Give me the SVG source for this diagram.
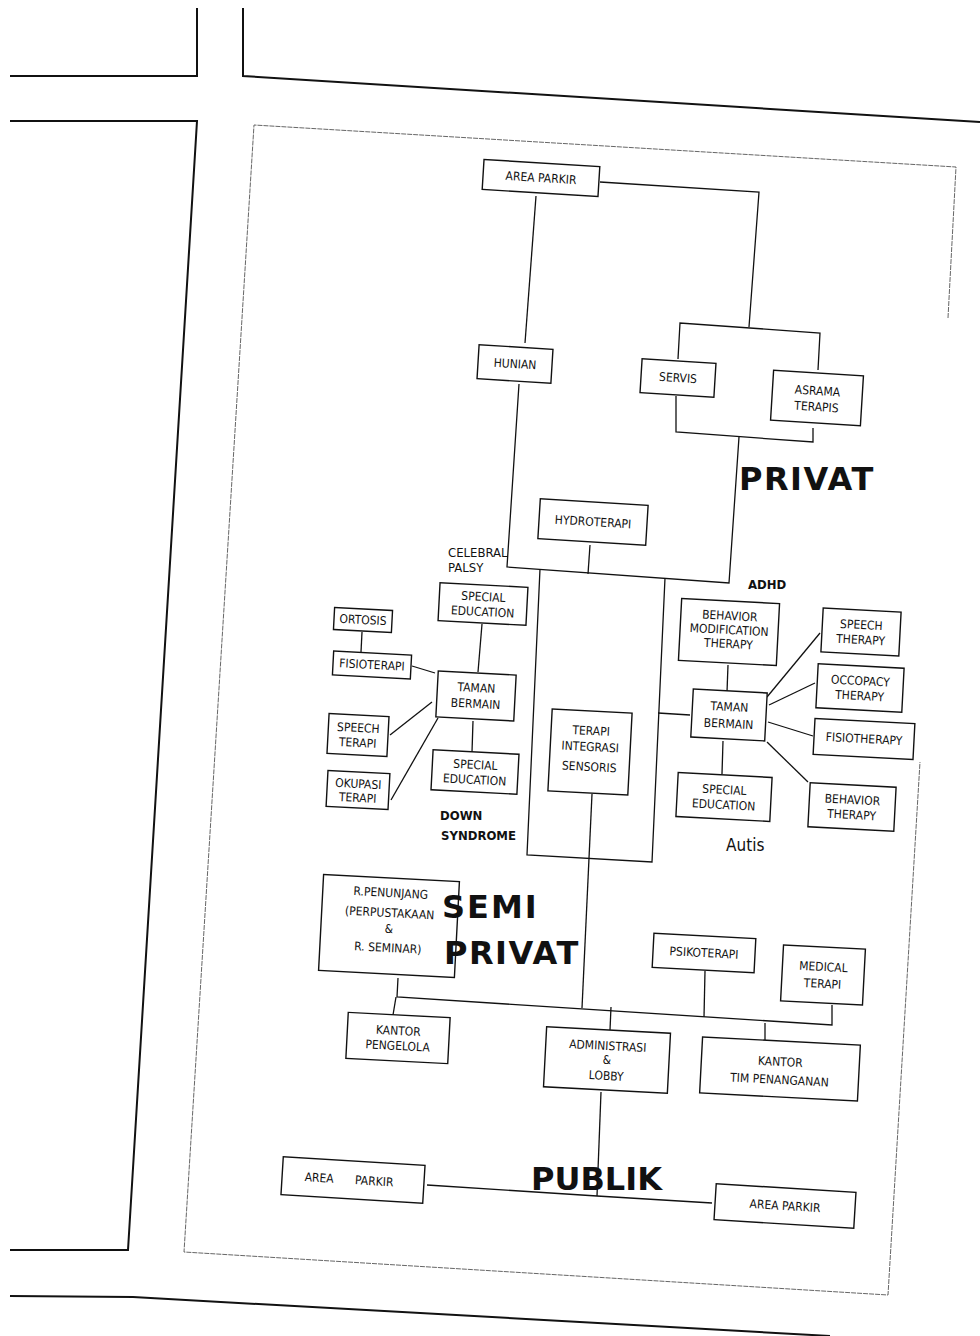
<svg xmlns="http://www.w3.org/2000/svg" width="980" height="1336" viewBox="0 0 980 1336">
<style>
.bg{fill:#fff}
.road{fill:none;stroke:#111;stroke-width:2}
.page{fill:none;stroke:#555;stroke-width:0.9;stroke-dasharray:5 1}
.box{fill:#fff;stroke:#111;stroke-width:1.4}
.c{fill:none;stroke:#111;stroke-width:1.3}
.t{font-family:"DejaVu Sans Condensed","Liberation Sans",sans-serif;font-size:12px;fill:#111;text-anchor:middle}
.lab{font-family:"DejaVu Sans Condensed","Liberation Sans",sans-serif;font-size:13px;fill:#111}
.big{font-family:"DejaVu Sans","Liberation Sans",sans-serif;font-weight:bold;font-size:32px;fill:#111}
</style>
<rect class="bg" x="0" y="0" width="980" height="1336"/>
<g id="site">
<polyline class="road" points="197,8 197,76 10,76"/>
<polyline class="road" points="243,8 243,76 980,122"/>
<polyline class="road" points="10,121 197,121 128,1250 10,1250"/>
<polyline class="road" points="10,1296 133,1297 830,1336"/>
<polyline class="page" points="948,318 956,167 254,125 184,1252 888,1295 920,762"/>
</g>
<g id="connectors">
<polyline class="c" points="536,196 525,343"/>
<polyline class="c" points="600,182 759,192 749,327"/>
<polyline class="c" points="678,359 680,323 820,333 818,370"/>
<polyline class="c" points="676,396 676,432 813,442 813,428"/>
<polyline class="c" points="739,437 729,583 507,567 519,384"/>
<polyline class="c" points="590,545 588,574"/>
<polyline class="c" points="540,569 527,855 652,862 665,578"/>
<polyline class="c" points="658,713 690,715"/>
<polyline class="c" points="592,794 582,1008"/>
<polyline class="c" points="482,624 478,672"/>
<polyline class="c" points="473,721 472,752"/>
<polyline class="c" points="362,632 361,652"/>
<polyline class="c" points="412,666 435,673"/>
<polyline class="c" points="390,735 432,702"/>
<polyline class="c" points="391,800 438,718"/>
<polyline class="c" points="728,665 727,692"/>
<polyline class="c" points="723,741 722,774"/>
<polyline class="c" points="767,697 820,633"/>
<polyline class="c" points="769,705 815,683"/>
<polyline class="c" points="768,722 813,736"/>
<polyline class="c" points="767,742 808,782"/>
<polyline class="c" points="398,978 397,997 832,1025 832,1005"/>
<polyline class="c" points="393,1015 396,997"/>
<polyline class="c" points="610,1030 611,1007"/>
<polyline class="c" points="705,971 704,1017"/>
<polyline class="c" points="765,1040 765,1023"/>
<polyline class="c" points="427,1185 597,1196 712,1203"/>
</g>
<g id="parkir_top" transform="translate(541,178) rotate(3.5)"><rect class="box" x="-58" y="-15" width="116" height="30"/><text class="t" y="4">AREA PARKIR</text></g>
<g id="hunian" transform="translate(515,364) rotate(3.5)"><rect class="box" x="-37" y="-17" width="74" height="34"/><text class="t" y="4">HUNIAN</text></g>
<g id="servis" transform="translate(678,378) rotate(3.5)"><rect class="box" x="-37" y="-17" width="74" height="34"/><text class="t" y="4">SERVIS</text></g>
<g id="asrama" transform="translate(817,398) rotate(3.5)"><rect class="box" x="-45" y="-25" width="90" height="50"/><text class="t" y="-3">ASRAMA</text><text class="t" y="13">TERAPIS</text></g>
<g id="hydroterapi" transform="translate(593,522) rotate(3.5)"><rect class="box" x="-54" y="-20" width="108" height="40"/><text class="t" y="4">HYDROTERAPI</text></g>
<g id="sped_cp" transform="translate(483,604) rotate(3)"><rect class="box" x="-44" y="-19" width="88" height="38"/><text class="t" y="-3">SPECIAL</text><text class="t" y="12">EDUCATION</text></g>
<g id="ortosis" transform="translate(363,620) rotate(3)"><rect class="box" x="-29" y="-11" width="58" height="22"/><text class="t" y="4">ORTOSIS</text></g>
<g id="fisioterapi" transform="translate(372,665) rotate(3)"><rect class="box" x="-39" y="-12" width="78" height="24"/><text class="t" y="4">FISIOTERAPI</text></g>
<g id="taman_ds" transform="translate(476,696) rotate(3)"><rect class="box" x="-39" y="-23" width="78" height="46"/><text class="t" y="-4">TAMAN</text><text class="t" y="12">BERMAIN</text></g>
<g id="speech_terapi" transform="translate(358,735) rotate(3)"><rect class="box" x="-30" y="-20" width="60" height="40"/><text class="t" y="-3">SPEECH</text><text class="t" y="12">TERAPI</text></g>
<g id="okupasi" transform="translate(358,790) rotate(3)"><rect class="box" x="-31" y="-18" width="62" height="36"/><text class="t" y="-2">OKUPASI</text><text class="t" y="12">TERAPI</text></g>
<g id="sped_ds" transform="translate(475,772) rotate(3)"><rect class="box" x="-43" y="-20" width="86" height="40"/><text class="t" y="-3">SPECIAL</text><text class="t" y="12">EDUCATION</text></g>
<g id="behavior_mod" transform="translate(729,632) rotate(3)"><rect class="box" x="-49" y="-31" width="98" height="62"/><text class="t" y="-12">BEHAVIOR</text><text class="t" y="2">MODIFICATION</text><text class="t" y="16">THERAPY</text></g>
<g id="speech_therapy" transform="translate(861,632) rotate(3)"><rect class="box" x="-39" y="-22" width="78" height="44"/><text class="t" y="-3">SPEECH</text><text class="t" y="12">THERAPY</text></g>
<g id="occopacy" transform="translate(860,688) rotate(3)"><rect class="box" x="-43" y="-22" width="86" height="44"/><text class="t" y="-3">OCCOPACY</text><text class="t" y="12">THERAPY</text></g>
<g id="fisiotherapy" transform="translate(864,739) rotate(3)"><rect class="box" x="-50" y="-18" width="100" height="36"/><text class="t" y="4">FISIOTHERAPY</text></g>
<g id="behavior_therapy" transform="translate(852,807) rotate(3)"><rect class="box" x="-43" y="-22" width="86" height="44"/><text class="t" y="-3">BEHAVIOR</text><text class="t" y="12">THERAPY</text></g>
<g id="taman_autis" transform="translate(729,715) rotate(3)"><rect class="box" x="-37" y="-24" width="74" height="48"/><text class="t" y="-4">TAMAN</text><text class="t" y="13">BERMAIN</text></g>
<g id="sped_autis" transform="translate(724,797) rotate(3)"><rect class="box" x="-47" y="-22" width="94" height="44"/><text class="t" y="-3">SPECIAL</text><text class="t" y="12">EDUCATION</text></g>
<g id="terapi_integrasi" transform="translate(590,752) rotate(3)"><rect class="box" x="-40" y="-41" width="80" height="82"/><text class="t" y="-17">TERAPI</text><text class="t" y="-1">INTEGRASI</text><text class="t" y="19">SENSORIS</text></g>
<g id="penunjang" transform="translate(389,926) rotate(3)"><rect class="box" x="-68" y="-48" width="136" height="96"/><text class="t" y="-29">R.PENUNJANG</text><text class="t" y="-9">(PERPUSTAKAAN</text><text class="t" y="7">&amp;</text><text class="t" y="26">R. SEMINAR)</text></g>
<g id="psikoterapi" transform="translate(704,953) rotate(3)"><rect class="box" x="-51" y="-17" width="102" height="34"/><text class="t" y="4">PSIKOTERAPI</text></g>
<g id="medical" transform="translate(823,975) rotate(3)"><rect class="box" x="-41" y="-28" width="82" height="56"/><text class="t" y="-4">MEDICAL</text><text class="t" y="13">TERAPI</text></g>
<g id="kantor_pengelola" transform="translate(398,1038) rotate(3)"><rect class="box" x="-51" y="-23" width="102" height="46"/><text class="t" y="-3">KANTOR</text><text class="t" y="12">PENGELOLA</text></g>
<g id="admin" transform="translate(607,1060) rotate(3)"><rect class="box" x="-62" y="-30" width="124" height="60"/><text class="t" y="-10">ADMINISTRASI</text><text class="t" y="4">&amp;</text><text class="t" y="20">LOBBY</text></g>
<g id="kantor_tim" transform="translate(780,1069) rotate(3)"><rect class="box" x="-79" y="-28" width="158" height="56"/><text class="t" y="-3">KANTOR</text><text class="t" y="15">TIM PENANGANAN</text></g>
<g id="parkir_bl" transform="translate(353,1180) rotate(3.5)"><rect class="box" x="-71" y="-19" width="142" height="38"/><text class="t" y="4" x="-4" style="word-spacing:18px">AREA PARKIR</text></g>
<g id="parkir_br" transform="translate(785,1206) rotate(3.5)"><rect class="box" x="-70" y="-18" width="140" height="36"/><text class="t" y="4">AREA PARKIR</text></g>
<g id="labels">
<text class="big" x="739" y="490" style="letter-spacing:1.5px">PRIVAT</text>
<text class="lab" x="448" y="557">CELEBRAL</text>
<text class="lab" x="448" y="572">PALSY</text>
<text class="lab" x="748" y="589" style="font-weight:bold">ADHD</text>
<text class="lab" x="440" y="820" style="font-weight:bold">DOWN</text>
<text class="lab" x="441" y="840" style="font-weight:bold">SYNDROME</text>
<text class="lab" x="726" y="851" style="font-size:17px">Autis</text>
<text class="big" x="442" y="918" style="letter-spacing:2px">SEMI</text>
<text class="big" x="444" y="964" style="letter-spacing:1.5px">PRIVAT</text>
<text class="big" x="531" y="1190">PUBLIK</text>
</g>
<g id="connector_top">
<polyline class="c" points="601,1092 597,1196"/>
</g>
</svg>
